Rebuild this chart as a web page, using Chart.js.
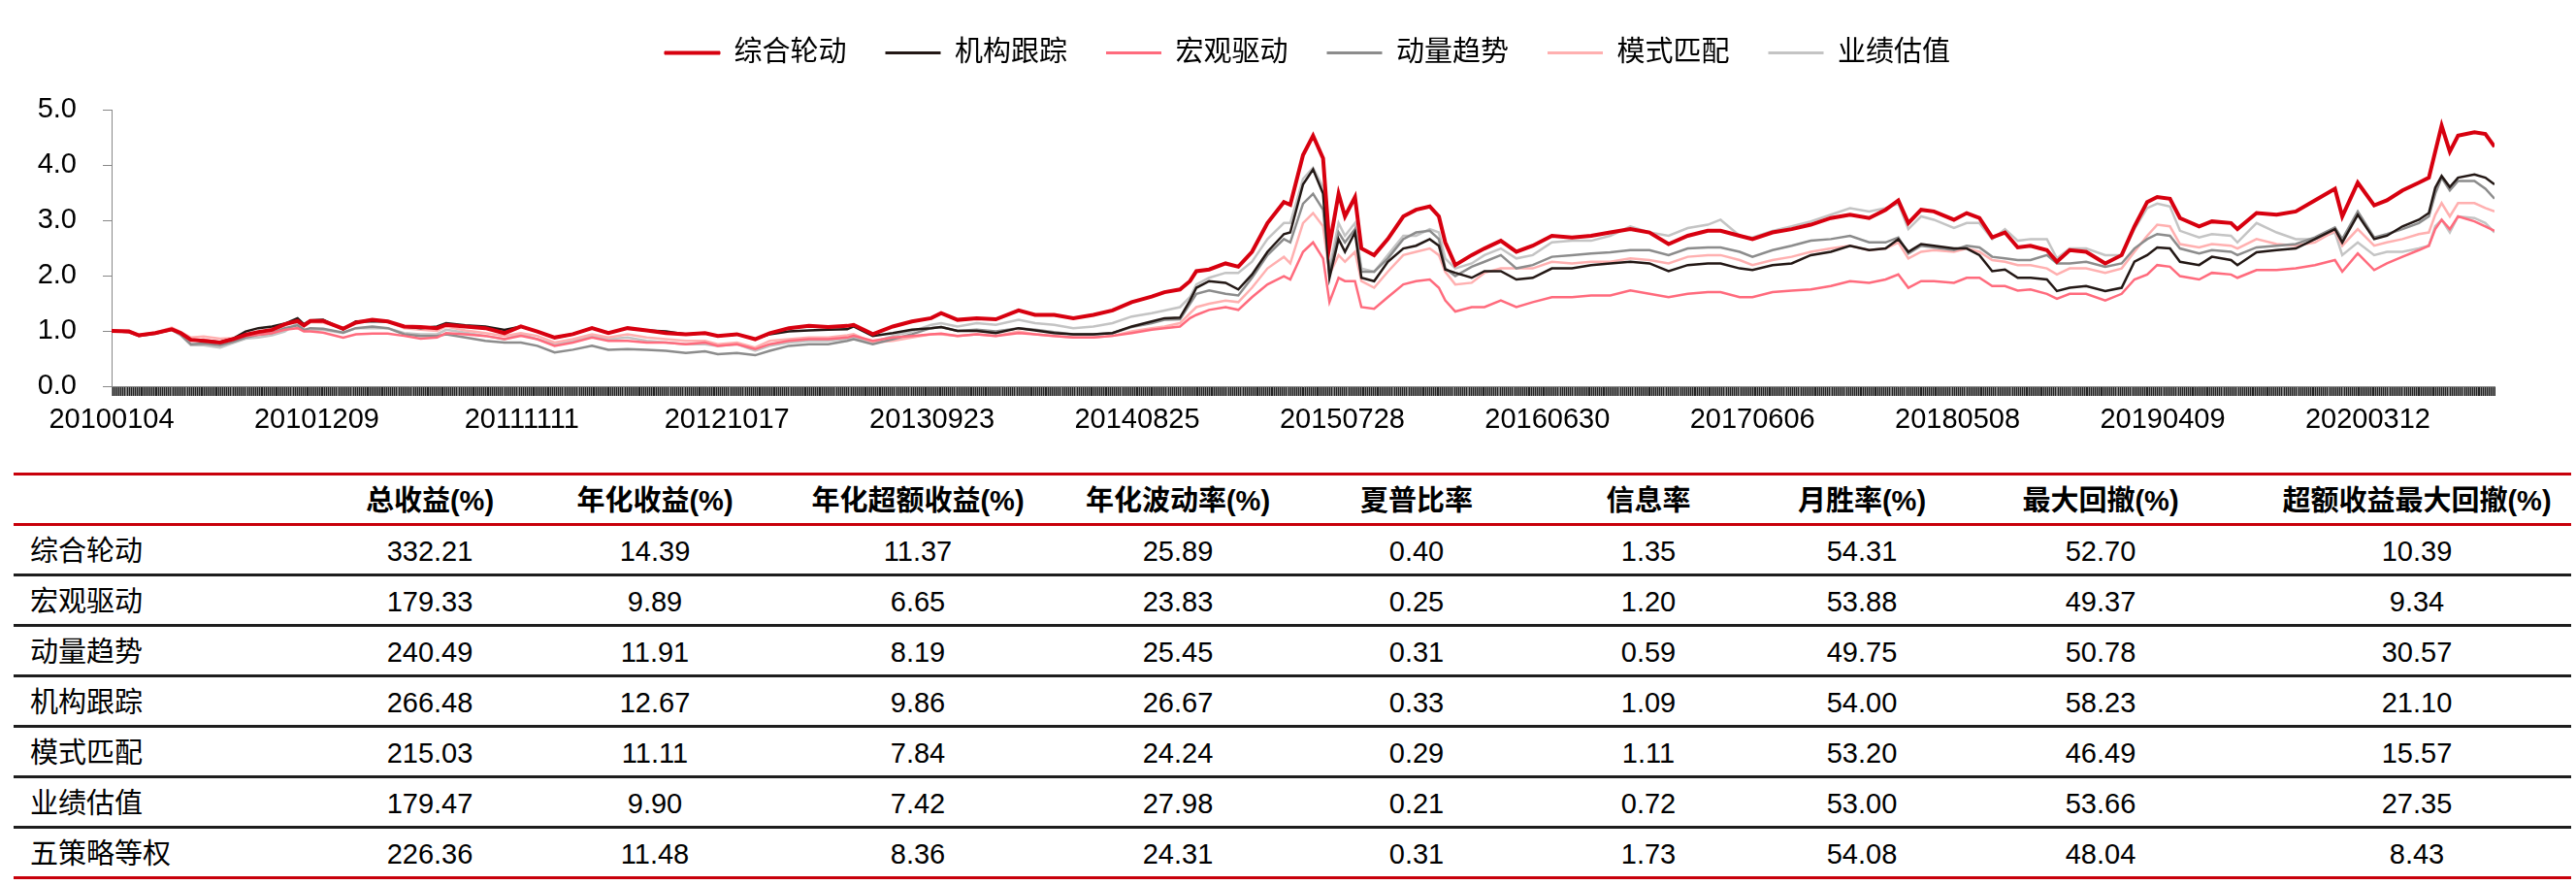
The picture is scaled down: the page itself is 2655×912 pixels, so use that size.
<!DOCTYPE html>
<html>
<head>
<meta charset="utf-8">
<script src="https://cdn.jsdelivr.net/npm/chart.js@4.4.1/dist/chart.umd.min.js"></script>
<style>
  html, body { margin: 0; padding: 0; background: #fff; }
  body { width: 2655px; height: 912px; position: relative; overflow: hidden;
         font-family: 'Liberation Sans', 'Noto Sans CJK SC', sans-serif; color: #000; }
  #chartBox { position: absolute; left: 0; top: 0; width: 2655px; height: 470px; }
  #stats { position: absolute; left: 14px; top: 487px; width: 2636px; height: 420px; }
  .rule { position: absolute; left: 0; width: 100%; height: 3px; }
  .row { position: absolute; left: 0; width: 100%; height: 49px; line-height: 49px; font-size: 29px; }
  .cell { position: absolute; top: 0; transform: translateX(-50%); white-space: nowrap; }
  .name { position: absolute; top: 0; left: 17px; white-space: nowrap; }
  .head { font-weight: bold; }
</style>
</head>
<body>
<div id="chartBox"><canvas id="navChart" width="2655" height="470"></canvas></div>
<div id="stats"></div>
<script>
// 净值曲线
const seriesNames = ['综合轮动', '机构跟踪', '宏观驱动', '动量趋势', '模式匹配', '业绩估值'];
const seriesColors = ['#D7000F', '#231815', '#FF6B7D', '#8C8C8C', '#FFB0B0', '#C4C4C4'];

const dateLabels = ['20100104', '20101209', '20111111', '20121017', '20130923', '20140825',
  '20150728', '20160630', '20170606', '20180508', '20190409', '20200312'];
const labelStep = 225;          // 交易日间隔
const tradingDayCount = 2615;

// 采样点（交易日序号）
const tradeIdx = [0,19,30,48,66,76,87,101,119,133,147,161,176,190,204,211,218,232,254,268,286,303,321,339,357,
  367,388,410,431,449,467,486,506,527,545,566,587,608,630,651,665,686,706,722,743,765,786,807,
  814,835,857,878,899,910,928,949,970,995,1013,1034,1055,1077,1098,1119,1141,1155,1172,1183,1190,1204,1222,1236,1251,1268,1286,
  1293,1307,1318,1329,1336,1346,1353,1364,1371,1385,1400,1417,1431,1446,1456,1463,1474,1492,1506,1524,1541,1559,1580,1602,1623,1644,1666,1687,1708,1729,1751,
  1765,1786,1800,1822,1843,1864,1886,1907,1928,1946,1960,1971,1985,1999,2021,2035,2049,2063,2077,2091,2105,2123,2134,2148,2166,2187,2205,2219,
  2233,2244,2258,2269,2290,2304,2325,2332,2353,2375,2396,2417,2439,2447,2464,2482,2496,2513,2531,2542,2549,2556,2565,2574,2592,2604,2614];

const rotation = [1.00,0.99,0.92,0.96,1.03,0.96,0.84,0.82,0.79,0.85,0.93,0.98,1.02,1.12,1.18,1.10,1.18,1.18,1.04,1.15,1.20,1.17,1.08,1.07,1.05,
  1.11,1.08,1.05,0.96,1.08,0.99,0.88,0.94,1.05,0.96,1.05,1.01,0.96,0.94,0.96,0.91,0.94,0.85,0.96,1.05,1.09,1.07,1.09,
  1.11,0.94,1.08,1.17,1.23,1.32,1.20,1.23,1.21,1.37,1.29,1.29,1.23,1.29,1.37,1.52,1.62,1.70,1.75,1.90,2.08,2.11,2.22,2.16,2.43,2.95,3.33,
  3.28,4.18,4.53,4.12,2.54,3.48,3.07,3.42,2.49,2.37,2.66,3.07,3.19,3.25,3.07,2.60,2.19,2.37,2.49,2.63,2.43,2.54,2.72,2.69,2.72,2.78,2.84,2.78,2.57,2.72,2.81,
  2.81,2.72,2.66,2.78,2.84,2.92,3.04,3.10,3.04,3.19,3.36,2.95,3.19,3.16,3.01,3.13,3.04,2.69,2.78,2.51,2.54,2.46,2.25,2.46,2.43,2.22,2.37,2.89,
  3.33,3.42,3.39,3.04,2.89,2.98,2.95,2.84,3.13,3.10,3.16,3.36,3.57,3.07,3.68,3.27,3.36,3.54,3.68,3.77,4.24,4.71,4.24,4.53,4.59,4.56,4.33];

const institution = [1.00,0.99,0.92,0.96,1.03,0.96,0.84,0.82,0.80,0.86,0.99,1.05,1.08,1.13,1.23,1.12,1.19,1.20,1.03,1.17,1.17,1.17,1.08,1.05,1.08,
  1.14,1.10,1.08,1.02,1.08,0.99,0.88,0.94,1.05,0.96,1.05,1.01,0.99,0.94,0.96,0.91,0.94,0.85,0.94,0.99,1.01,1.02,1.03,
  1.08,0.91,0.96,1.02,1.05,1.07,1.00,1.00,0.96,1.05,1.01,0.96,0.94,0.94,0.96,1.08,1.17,1.23,1.24,1.55,1.78,1.90,1.87,1.75,2.02,2.43,2.75,
  2.78,3.65,3.92,3.48,1.96,2.66,2.43,2.78,1.96,1.90,2.25,2.49,2.54,2.66,2.54,2.11,2.05,1.96,2.08,2.08,1.93,1.96,2.13,2.13,2.19,2.22,2.25,2.22,2.08,2.19,2.22,
  2.22,2.13,2.10,2.19,2.22,2.37,2.43,2.54,2.46,2.49,2.66,2.43,2.57,2.54,2.49,2.49,2.37,2.08,2.11,1.96,1.96,1.93,1.72,1.78,1.81,1.72,1.78,2.25,
  2.37,2.51,2.49,2.25,2.19,2.34,2.28,2.19,2.42,2.46,2.49,2.66,2.84,2.60,3.10,2.66,2.72,2.89,3.01,3.13,3.59,3.80,3.60,3.77,3.83,3.77,3.65];

const macro = [1.00,0.98,0.91,0.96,1.02,0.95,0.82,0.84,0.80,0.84,0.91,0.93,0.96,1.02,1.05,0.99,0.99,0.97,0.88,0.94,0.95,0.95,0.91,0.86,0.88,
  0.96,0.94,0.91,0.85,0.91,0.85,0.73,0.79,0.88,0.82,0.82,0.79,0.79,0.76,0.79,0.73,0.76,0.67,0.76,0.82,0.85,0.85,0.88,
  0.91,0.82,0.88,0.91,0.94,0.95,0.91,0.94,0.91,0.96,0.94,0.91,0.88,0.88,0.91,0.96,1.02,1.05,1.08,1.23,1.29,1.38,1.43,1.38,1.61,1.84,1.99,
  1.93,2.43,2.60,2.31,1.52,1.96,1.90,1.90,1.43,1.40,1.61,1.84,1.90,1.93,1.78,1.55,1.35,1.43,1.43,1.55,1.43,1.52,1.61,1.61,1.64,1.64,1.73,1.67,1.61,1.67,1.70,
  1.70,1.61,1.61,1.70,1.73,1.75,1.81,1.90,1.87,1.93,2.02,1.78,1.90,1.90,1.87,1.96,1.96,1.81,1.81,1.73,1.75,1.67,1.58,1.67,1.67,1.55,1.67,1.93,
  2.02,2.19,2.16,1.99,1.93,2.05,2.02,1.96,2.10,2.10,2.13,2.19,2.28,2.07,2.40,2.10,2.22,2.34,2.46,2.54,2.84,3.01,2.84,3.07,2.98,2.89,2.81];

const momentum = [1.00,0.98,0.91,0.95,1.02,0.93,0.76,0.77,0.74,0.80,0.88,0.93,0.96,1.05,1.10,1.02,1.05,1.04,0.97,1.05,1.08,1.05,0.94,0.91,0.91,
  0.94,0.88,0.82,0.79,0.79,0.73,0.61,0.66,0.73,0.66,0.67,0.66,0.64,0.60,0.63,0.58,0.60,0.56,0.64,0.73,0.76,0.76,0.82,
  0.85,0.76,0.85,0.94,1.05,1.07,1.00,1.02,0.99,1.05,1.02,0.98,0.94,0.94,0.96,1.07,1.14,1.20,1.21,1.49,1.67,1.73,1.67,1.64,1.96,2.37,2.66,
  2.60,3.30,3.48,3.19,2.02,2.78,2.60,2.84,2.07,2.07,2.31,2.66,2.78,2.81,2.66,2.13,1.99,2.16,2.25,2.37,2.13,2.19,2.34,2.37,2.40,2.42,2.46,2.46,2.37,2.49,2.51,
  2.51,2.43,2.34,2.46,2.54,2.63,2.66,2.72,2.60,2.60,2.69,2.40,2.54,2.51,2.46,2.54,2.51,2.34,2.31,2.28,2.28,2.37,2.22,2.22,2.25,2.16,2.22,2.49,
  2.66,2.75,2.72,2.49,2.40,2.46,2.43,2.37,2.51,2.54,2.57,2.69,2.87,2.66,3.16,2.69,2.75,2.84,2.95,3.07,3.48,3.77,3.54,3.71,3.71,3.57,3.39];

const pattern = [1.00,1.00,0.93,0.97,1.06,0.98,0.88,0.90,0.86,0.87,0.92,0.97,1.00,1.10,1.20,1.08,1.16,1.15,1.05,1.17,1.20,1.17,1.05,1.02,1.00,
  1.08,1.01,0.96,0.91,0.96,0.91,0.79,0.85,0.94,0.88,0.94,0.88,0.85,0.82,0.82,0.76,0.79,0.70,0.82,0.85,0.88,0.88,0.92,
  0.94,0.79,0.82,0.88,0.94,0.94,0.91,0.94,0.91,0.99,0.94,0.91,0.88,0.88,0.91,0.99,1.05,1.08,1.14,1.32,1.43,1.49,1.55,1.52,1.78,2.13,2.34,
  2.22,2.95,3.13,2.89,2.02,2.37,2.25,2.43,1.90,1.78,2.07,2.37,2.43,2.49,2.37,2.07,1.84,1.87,2.05,2.13,2.13,2.13,2.25,2.22,2.25,2.25,2.31,2.28,2.22,2.34,2.37,
  2.37,2.28,2.19,2.28,2.34,2.43,2.49,2.54,2.46,2.49,2.60,2.31,2.43,2.46,2.43,2.49,2.43,2.28,2.25,2.19,2.19,2.13,2.02,2.13,2.13,2.05,2.13,2.43,
  2.72,2.92,2.89,2.57,2.51,2.57,2.54,2.49,2.66,2.57,2.54,2.60,2.81,2.54,2.84,2.54,2.60,2.66,2.75,2.78,3.10,3.31,3.07,3.31,3.31,3.22,3.16];

const valuation = [1.00,0.98,0.91,0.95,1.02,0.92,0.74,0.74,0.70,0.78,0.86,0.88,0.92,0.99,1.14,1.00,1.02,1.02,0.96,1.05,1.05,1.05,0.96,0.94,0.94,
  1.02,0.97,0.91,0.85,0.94,0.85,0.76,0.82,0.91,0.85,0.88,0.82,0.79,0.76,0.76,0.73,0.76,0.64,0.73,0.79,0.82,0.82,0.86,
  0.88,0.79,0.91,0.99,1.11,1.14,1.08,1.14,1.11,1.20,1.14,1.11,1.05,1.08,1.14,1.26,1.32,1.37,1.43,1.61,1.84,1.96,2.05,2.05,2.25,2.66,2.95,
  2.95,3.75,3.95,3.60,2.13,2.95,2.72,2.95,2.13,2.07,2.37,2.72,2.72,2.84,2.78,2.31,2.13,2.22,2.37,2.49,2.31,2.37,2.60,2.63,2.63,2.72,2.89,2.78,2.72,2.86,2.92,
  3.01,2.72,2.69,2.81,2.89,2.98,3.10,3.22,3.16,3.22,3.30,2.84,3.07,3.01,2.86,2.95,2.95,2.66,2.84,2.63,2.66,2.66,2.31,2.49,2.49,2.37,2.37,2.84,
  3.22,3.30,3.25,2.81,2.69,2.75,2.72,2.60,2.95,2.78,2.66,2.66,2.78,2.37,2.60,2.37,2.43,2.43,2.49,2.54,2.89,3.01,2.78,3.07,3.04,2.95,2.78];

// 统计表
const statHeaders = ['总收益(%)', '年化收益(%)', '年化超额收益(%)', '年化波动率(%)', '夏普比率',
  '信息率', '月胜率(%)', '最大回撤(%)', '超额收益最大回撤(%)'];
const strategyNames = ['综合轮动', '宏观驱动', '动量趋势', '机构跟踪', '模式匹配', '业绩估值', '五策略等权'];
const totalReturn = [332.21, 179.33, 240.49, 266.48, 215.03, 179.47, 226.36];
const annualReturn = [14.39, 9.89, 11.91, 12.67, 11.11, 9.90, 11.48];
const annualExcess = [11.37, 6.65, 8.19, 9.86, 7.84, 7.42, 8.36];
const annualVol = [25.89, 23.83, 25.45, 26.67, 24.24, 27.98, 24.31];
const sharpe = [0.40, 0.25, 0.31, 0.33, 0.29, 0.21, 0.31];
const infoRatio = [1.35, 1.20, 0.59, 1.09, 1.11, 0.72, 1.73];
const monthlyWin = [54.31, 53.88, 49.75, 54.00, 53.20, 53.00, 54.08];
const maxDrawdown = [52.70, 49.37, 50.78, 58.23, 46.49, 53.66, 48.04];
const excessDrawdown = [10.39, 9.34, 30.57, 21.10, 15.57, 27.35, 8.43];

const fontFamily = "'Liberation Sans', 'Noto Sans CJK SC', sans-serif";
const series = [rotation, institution, macro, momentum, pattern, valuation];
const lineWidths = [4, 2.5, 2.5, 2.5, 2.5, 2.5];

const labelByIdx = {};
dateLabels.forEach((d, i) => { labelByIdx[i * labelStep] = d; });

// 图例占位 + 居中到绘图区
const legendSpace = {
    id: 'legendSpace',
    beforeInit(chart) {
        const fit = chart.legend.fit;
        chart.legend.fit = function () { fit.call(this); this.height = 113; };
    },
    afterLayout(chart) {
        chart.legend.left += 62;
        chart.legend.right += 62;
    }
};

new Chart(document.getElementById('navChart'), {
    type: 'line',
    data: {
        datasets: seriesNames.map((name, i) => ({
            label: name,
            data: tradeIdx.map((x, j) => ({ x: x, y: series[i][j] })),
            borderColor: seriesColors[i],
            backgroundColor: seriesColors[i],
            borderWidth: lineWidths[i],
            pointRadius: 0,
            tension: 0,
            fill: false
        }))
    },
    options: {
        responsive: false,
        animation: false,
        events: [],
        layout: { padding: { left: 0, right: 84, top: 0, bottom: 0 } },
        plugins: {
            tooltip: { enabled: false },
            legend: {
                position: 'top',
                labels: {
                    boxWidth: 57,
                    boxHeight: 3,
                    padding: 40,
                    color: '#000',
                    font: { size: 29, family: fontFamily },
                    generateLabels: chart => chart.data.datasets.map((ds, i) => ({
                        text: ds.label,
                        fillStyle: ds.borderColor,
                        strokeStyle: ds.borderColor,
                        lineWidth: i === 0 ? 1 : 0,
                        hidden: false,
                        datasetIndex: i,
                        fontColor: '#000'
                    }))
                }
            }
        },
        scales: {
            x: {
                type: 'linear',
                min: 0,
                max: tradingDayCount - 1,
                afterBuildTicks: scale => {
                    const t = [];
                    for (let i = 0; i < tradingDayCount; i++) t.push({ value: i });
                    scale.ticks = t;
                },
                afterFit: scale => { scale.height = 72; },
                ticks: {
                    autoSkip: false,
                    maxRotation: 0,
                    minRotation: 0,
                    padding: 8,
                    color: '#000',
                    font: { size: 29, family: fontFamily },
                    callback: v => labelByIdx[v] || ''
                },
                grid: {
                    drawOnChartArea: false,
                    drawTicks: true,
                    tickLength: 10,
                    lineWidth: 1,
                    color: ctx => (ctx.index % 2 ? '#858585' : '#222222')
                },
                border: { display: true, color: '#888' }
            },
            y: {
                min: 0,
                max: 5,
                afterFit: scale => { scale.width = 115; },
                ticks: {
                    stepSize: 1,
                    padding: 27,
                    color: '#000',
                    font: { size: 29, family: fontFamily },
                    callback: v => v.toFixed(1)
                },
                grid: { drawOnChartArea: false, tickLength: 9, color: '#888' },
                border: { color: '#888' }
            }
        }
    },
    plugins: [legendSpace]
});

// 表格
const columns = [totalReturn, annualReturn, annualExcess, annualVol, sharpe, infoRatio, monthlyWin, maxDrawdown, excessDrawdown];
const colCenters = [429, 661, 932, 1200, 1446, 1685, 1905, 2151, 2477];
const stats = document.getElementById('stats');

for (let k = 0; k <= 8; k++) {
    const rule = document.createElement('div');
    rule.className = 'rule';
    rule.style.top = (52 * k) + 'px';
    rule.style.background = (k <= 1 || k === 8) ? '#C8000A' : '#1E1E1E';
    stats.appendChild(rule);
}

function addRow(r, name, cells, isHead) {
    const row = document.createElement('div');
    row.className = 'row' + (isHead ? ' head' : '');
    row.style.top = (52 * r + 5) + 'px';
    const nm = document.createElement('span');
    nm.className = 'name';
    nm.textContent = name;
    row.appendChild(nm);
    cells.forEach((c, i) => {
        const s = document.createElement('span');
        s.className = 'cell';
        s.style.left = colCenters[i] + 'px';
        s.textContent = c;
        row.appendChild(s);
    });
    stats.appendChild(row);
}

addRow(0, '', statHeaders, true);
strategyNames.forEach((name, r) => {
    addRow(r + 1, name, columns.map(col => col[r].toFixed(2)), false);
});
</script>
</body>
</html>
